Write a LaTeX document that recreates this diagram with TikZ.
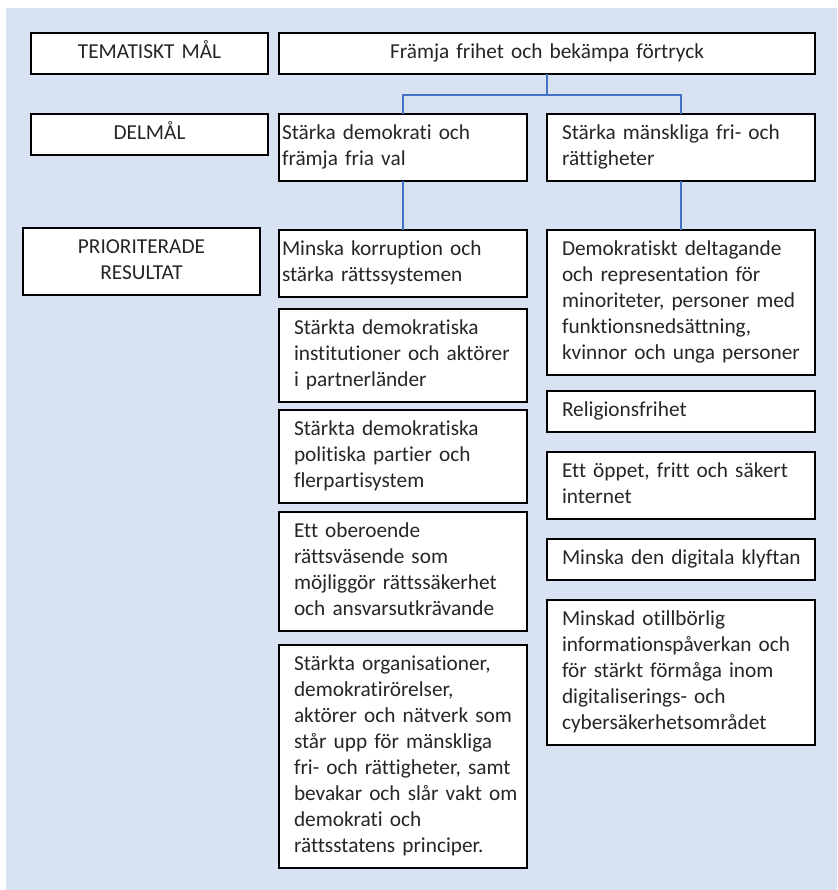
\documentclass[tikz,border=0pt]{standalone}
\usepackage{fontspec}
\setmainfont{Carlito}[Ligatures=CommonOff]
\usepackage{tikz}
\usetikzlibrary{positioning}
\definecolor{bgblue}{HTML}{D9E2F3}
\definecolor{linkblue}{HTML}{4472C4}

\begin{document}
\begin{tikzpicture}[x=1pt, y=-1pt, node distance=20pt,
		box/.style={draw=black, line width=1.6pt, fill=white, text=black!85, outer sep=0pt,
			font=\fontsize{21.3}{26}\selectfont, inner ysep=7.5pt,
			execute at begin node=\strut, execute at end node=\strut},
		flow/.style={box, align=left,
			execute at begin node={\hyphenpenalty=10000\rightskip=0pt plus 1fil minus 30pt\strut}},
		lab/.style={box, align=center, text width=207pt, inner xsep=15pt},
		top/.style={box, align=center, text width=506pt, inner xsep=15pt},
		tight/.style={flow, text width=242pt, inner xsep=3pt},
		colA/.style={flow, text width=218pt, inner xsep=15pt},
		colB/.style={flow, text width=238pt, inner xsep=15pt},
		link/.style={draw=linkblue, line width=1.3pt}]
		\fill[bgblue] (6,8) rectangle (837,890);
		\useasboundingbox (0,0) rectangle (837,890);
		
		\node[lab, anchor=north west] (t0) at (31,33) {TEMATISKT MÅL};
		\node[lab, anchor=north west] (t1) at (31,114) {DELMÅL};
		\node[lab, anchor=north west] (t2) at (23,228) {PRIORITERADE\\RESULTAT};
		
		\node[top, anchor=north west] (mal) at (279,33) {Främja frihet och bekämpa förtryck};
		\node[tight, anchor=north west] (del1) at (279,114) {Stärka demokrati och\\främja fria val};
		\node[colB, right=20pt of del1] (del2) {Stärka mänskliga fri- och\\rättigheter};
		
		\node[tight, below=49pt of del1] (res1) {Minska korruption och\\stärka rättssystemen};
		\node[colA, below=12pt of res1] (res2) {Stärkta demokratiska\\institutioner och aktörer\\i partnerländer};
		\node[colA, below=8pt of res2] (res3) {Stärkta demokratiska\\politiska partier och\\flerpartisystem};
		\node[colA, below=9pt of res3] (res4) {Ett oberoende\\rättsväsende som\\möjliggör rättssäkerhet\\och ansvarsutkrävande};
		\node[colA, below=14pt of res4] (res5) {Stärkta organisationer,\\demokratirörelser,\\aktörer och nätverk som\\står upp för mänskliga\\fri- och rättigheter, samt\\bevakar och slår vakt om\\demokrati och\\rättsstatens principer.};
		
		\node[colB, text depth=111.8pt, below=49pt of del2] (res6) {Demokratiskt deltagande\\och representation för\\minoriteter, personer med\\funktionsnedsättning,\\kvinnor och unga personer};
		\node[colB, below=16pt of res6] (res7) {Religionsfrihet};
		\node[colB, below=20pt of res7] (res8) {Ett öppet, fritt och säkert\\internet};
		\node[colB, below=20pt of res8] (res9) {Minska den digitala klyftan};
		\node[colB, below=20pt of res9] (res10) {Minskad otillbörlig\\informationspåverkan och\\för stärkt förmåga inom\\digitaliserings- och\\cybersäkerhetsområdet};
		
		\draw[link] (mal.south) -- ++(0,21) -| (del1.north);
		\draw[link] (mal.south) -- ++(0,21) -| (del2.north);
		\draw[link] (del1) -- (res1);
		\draw[link] (del2) -- (res6);
		
	\end{tikzpicture}
\end{document}
